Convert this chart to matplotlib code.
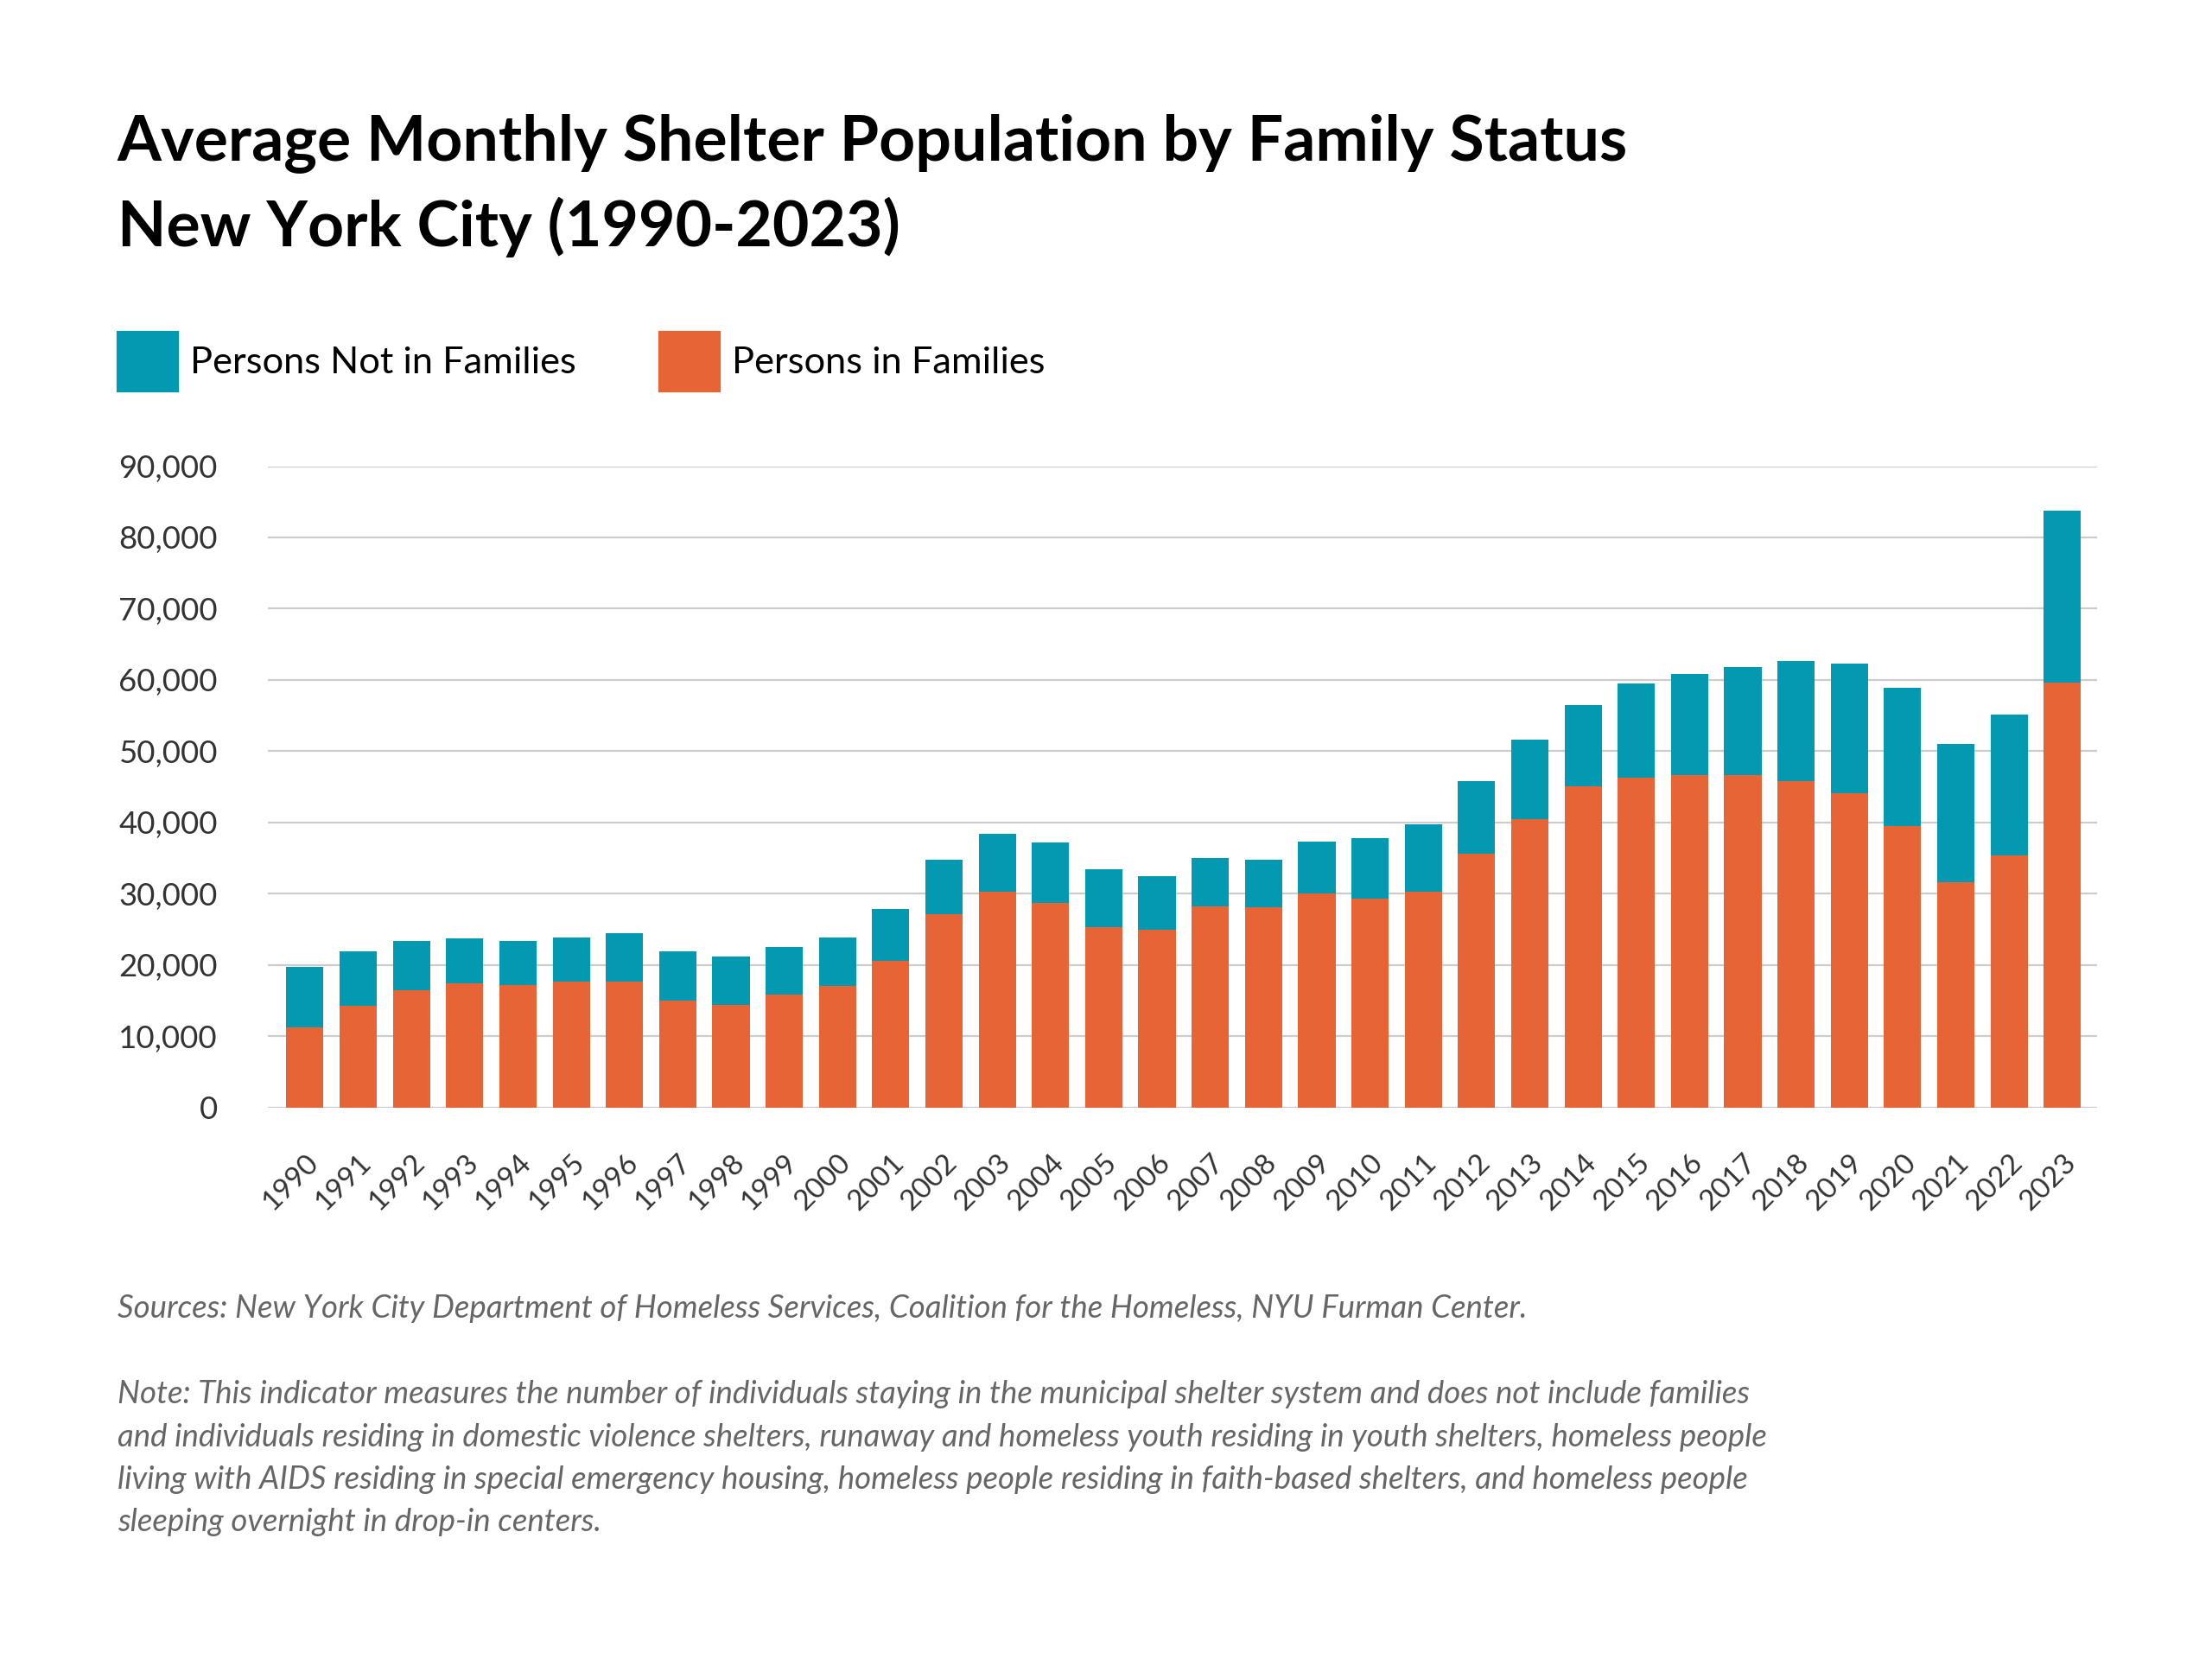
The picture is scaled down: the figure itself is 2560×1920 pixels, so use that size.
import matplotlib.pyplot as plt
from matplotlib.patches import Rectangle

years = [str(y) for y in range(1990, 2024)]
families = [11260, 14230, 16400, 17390, 17200, 17600, 17600, 15000, 14430, 15800,
            17000, 20550, 27080, 30240, 28650, 25300, 24900, 28260, 28060, 30040,
            29250, 30240, 35570, 40510, 45060, 46250, 46640, 46640, 45850, 44070,
            39530, 31620, 35380, 59680]
totals = [19760, 21940, 23320, 23700, 23300, 23900, 24500, 21900, 21150, 22500,
          23900, 27870, 34800, 38340, 37150, 33400, 32400, 35000, 34800, 37350,
          37750, 39720, 45850, 51580, 56520, 59490, 60870, 61860, 62650, 62250,
          58890, 50990, 55140, 83790]
not_families = [t - f for t, f in zip(totals, families)]

TEAL = "#0399B1"
ORANGE = "#E66436"
plt.rcParams['font.family'] = ['Lato', 'DejaVu Sans']

fig = plt.figure(figsize=(16, 12), dpi=160)
ax = fig.add_axes([0.121, 0.3325, 0.827, 0.3865])
x = range(len(years))
ax.bar(x, families, width=0.7, color=ORANGE, zorder=3)
ax.bar(x, not_families, width=0.7, bottom=families, color=TEAL, zorder=3)

ax.set_ylim(0, 90000)
ax.set_yticks(range(0, 90001, 10000))
ax.set_yticklabels([f"{v:,}" for v in range(0, 90001, 10000)], fontsize=16.5, color="#333333")
ax.set_xticks(list(x))
ax.set_xticklabels(years, rotation=45, ha="right", rotation_mode="anchor", fontsize=15, color="#333333")
ax.set_xlim(-0.7, len(years) - 0.35)
ax.grid(axis="y", color="#cccccc", linewidth=1, zorder=0)
for s in ax.spines.values():
    s.set_visible(False)
ax.tick_params(length=0, axis="both")
ax.tick_params(axis="y", pad=26)
ax.tick_params(axis="x", pad=22)

fig.text(0.053, 0.914, "Average Monthly Shelter Population by Family Status", fontsize=33,
         fontweight="bold", va="center")
fig.text(0.053, 0.863, "New York City (1990-2023)", fontsize=33, fontweight="bold", va="center")

fig.patches.append(Rectangle((0.053, 0.764), 0.0275, 0.036, transform=fig.transFigure, color=TEAL))
fig.text(0.086, 0.781, "Persons Not in Families", fontsize=19.5, va="center")
fig.patches.append(Rectangle((0.298, 0.764), 0.0275, 0.036, transform=fig.transFigure, color=ORANGE))
fig.text(0.331, 0.781, "Persons in Families", fontsize=19.5, va="center")

fig.text(0.053, 0.211, "Sources: New York City Department of Homeless Services, Coalition for the Homeless, NYU Furman Center.",
         fontsize=16.5, style="italic", color="#666666", va="center")
note = ("Note: This indicator measures the number of individuals staying in the municipal shelter system and does not include families\n"
        "and individuals residing in domestic violence shelters, runaway and homeless youth residing in youth shelters, homeless people\n"
        "living with AIDS residing in special emergency housing, homeless people residing in faith-based shelters, and homeless people\n"
        "sleeping overnight in drop-in centers.")
fig.text(0.053, 0.168, note, fontsize=16.5, style="italic", color="#666666", va="top", linespacing=1.6)

fig.savefig("out.png", dpi=160)
